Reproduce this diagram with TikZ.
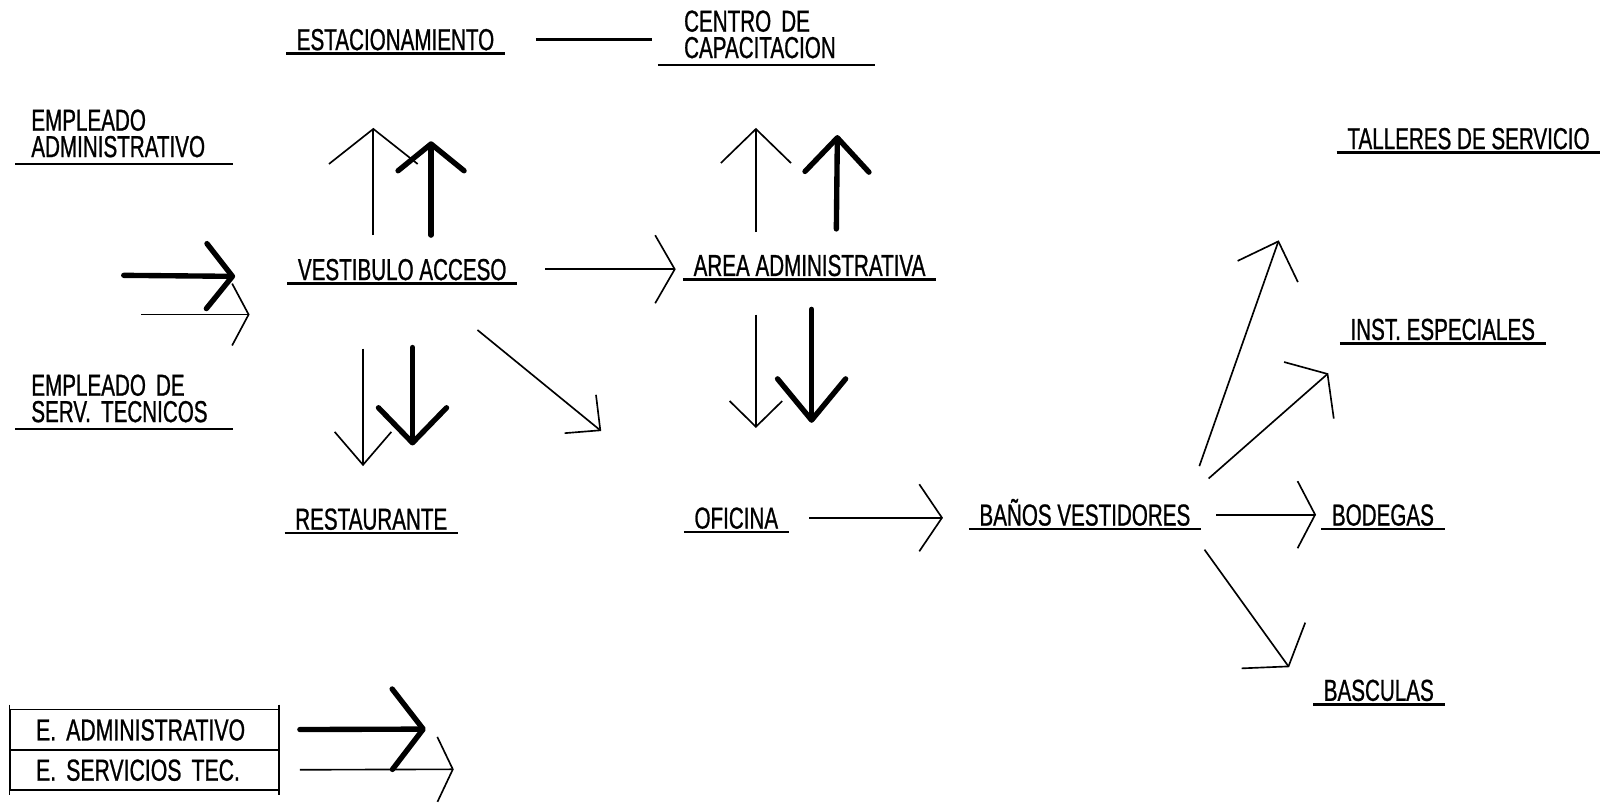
\documentclass[tikz,border=0pt]{standalone}
\usepackage{fontspec}
\newfontfamily\cond[FakeStretch=0.68,FakeBold=0.8]{Liberation Sans}
\newfontfamily\condL[FakeStretch=0.7,FakeBold=0.8]{Liberation Sans}
\usetikzlibrary{arrows.meta}
\hyphenpenalty=10000
\begin{document}
\begin{tikzpicture}[x=0.5pt,y=-0.5pt,
  uline/.style={line width=1.2pt},
  ul/.style={append after command={(\tikzlastnode.south west) edge[uline] (\tikzlastnode.south east)}},
  lbl/.style={font=\cond\fontsize{14.7}{12}\selectfont, anchor=south, inner xsep=5pt, inner ysep=1.5pt, text height=10.5pt, text depth=0pt, ul},
  lbltwo/.style={font=\cond\fontsize{14.7}{12.8}\selectfont, anchor=south west, align=left, inner ysep=3pt, ul},
  legbox/.style={draw, line width=0.8pt, minimum height=19.5pt, inner xsep=12.5pt, inner ysep=2pt, text width=105pt, align=left, text height=10.5pt, text depth=0pt, font=\condL\fontsize{14.7}{14}\selectfont},
  thinarr/.style={line width=0.8pt},
  thickarr/.style={line width=2.6pt, line cap=round},
  hd/.style 2 args={-{Straight Barb[length=#1,width=#2]}},
  hdr/.style 2 args={-{Straight Barb[round,length=#1,width=#2]}}
]
\useasboundingbox (0,0) rectangle (1568,779);

% labels
\node[lbl] (est) at (383.5,52) {ESTACIONAMIENTO};
\node[lbltwo, inner xsep=12.5pt, text width=80pt] (centro) at (638,63) {CENTRO DE\\CAPACITACION};
\node[lbltwo, inner xsep=7.5pt, text width=90pt] (empadm) at (15,159) {EMPLEADO\\ADMINISTRATIVO};
\node[lbl] (talleres) at (1424,148) {TALLERES DE SERVICIO};
\node[lbl] (vest) at (390,275) {VESTIBULO ACCESO};
\node[lbl] (area) at (785,271) {AREA ADMINISTRATIVA};
\node[lbl] (inst) at (1399,333) {INST. ESPECIALES};
\node[lbltwo, inner xsep=7.5pt, text width=90pt] (emptec) at (15,416) {EMPLEADO DE\\SERV. TECNICOS};
\node[lbl] (rest) at (360,517) {RESTAURANTE};
\node[lbl] (ofic) at (714,516) {OFICINA};
\node[lbl] (banos) at (1052,513) {BAÑOS VESTIDORES};
\node[lbl] (bod) at (1341,513) {BODEGAS};
\node[lbl] (basc) at (1337,683) {BASCULAS};

% legend
\node[legbox] (la) at (140,707.5) {E. ADMINISTRATIVO};
\node[legbox] (lb) at (140,746.5) {E. SERVICIOS TEC.};
\draw[thinarr] ([yshift=2pt]la.north west) -- ([yshift=-2pt]lb.south west);
\draw[thinarr] ([yshift=2pt]la.north east) -- ([yshift=-2pt]lb.south east);

% free arrow ends
\coordinate (a1s) at (362,228); \coordinate (a1e) at (362,124);
\coordinate (a2s) at (418,228); \coordinate (a2e) at (418,137);
\coordinate (a3s) at (733,225); \coordinate (a3e) at (733,124);
\coordinate (a4s) at (811,222); \coordinate (a4e) at (812,131);
\coordinate (a5s) at (120,267); \coordinate (a5e) at (228,268);
\coordinate (a6s) at (137,305); \coordinate (a6e) at (242,305);
\coordinate (a8s) at (352,338); \coordinate (a8e) at (352,452);
\coordinate (a9s) at (400,337); \coordinate (a9e) at (400,432);
\coordinate (a10s) at (463,320); \coordinate (a10e) at (583,418);
\coordinate (a11s) at (733,305); \coordinate (a11e) at (733,415);
\coordinate (a12s) at (787,300); \coordinate (a12e) at (787,410);
\coordinate (a15s) at (1163,452); \coordinate (a15e) at (1240,233);
\coordinate (a16s) at (1172,464); \coordinate (a16e) at (1288,362);
\coordinate (a17s) at (1168,533); \coordinate (a17e) at (1250,647);
\coordinate (a18e) at (413,707);
\coordinate (a19e) at (440,746);

% connectors
\draw[uline, shorten <=15pt, shorten >=3pt] (est.east) -- (est.east -| centro.west);
\draw[thinarr, hd={17pt}{43pt}] (a1s) -- (a1e);
\draw[thickarr, hdr={13pt}{32pt}] (a2s) -- (a2e);
\draw[thinarr, hd={16.5pt}{34pt}] (a3s) -- (a3e);
\draw[thickarr, hdr={16.5pt}{31pt}] (a4s) -- (a4e);
\draw[thickarr, hdr={12.5pt}{31.5pt}] (a5s) -- (a5e);
\draw[thinarr, hd={8pt}{30pt}] (a6s) -- (a6e);
\draw[thinarr, hd={9.5pt}{33pt}, shorten <=13.5pt, shorten >=3.5pt] (vest.east) -- (vest.east -| area.west);
\draw[thinarr, hd={16pt}{27.5pt}] (a8s) -- (a8e);
\draw[thickarr, hdr={17pt}{33pt}] (a9s) -- (a9e);
\draw[thinarr, hd={12.5pt}{24pt}] (a10s) -- (a10e);
\draw[thinarr, hd={12.5pt}{25.5pt}] (a11s) -- (a11e);
\draw[thickarr, hdr={20pt}{33pt}] (a12s) -- (a12e);
\draw[thinarr, hd={11pt}{32.5pt}, shorten <=10pt, shorten >=12.5pt] (ofic.east) -- (ofic.east -| banos.west);
\draw[thinarr, hd={8.5pt}{32.5pt}, shorten <=7.5pt, shorten >=2.5pt] (banos.east) -- (banos.east -| bod.west);
\draw[thinarr, hd={15.5pt}{31pt}] (a15s) -- (a15e);
\draw[thinarr, hd={12pt}{36.5pt}] (a16s) -- (a16e);
\draw[thinarr, hd={12.5pt}{38pt}] (a17s) -- (a17e);
\draw[thickarr, hdr={15pt}{39pt}, shorten <=10pt] (la.east) -- (a18e);
\draw[thinarr, hd={7.5pt}{31.5pt}, shorten <=10pt] (lb.east) -- (a19e);
\end{tikzpicture}
\end{document}
